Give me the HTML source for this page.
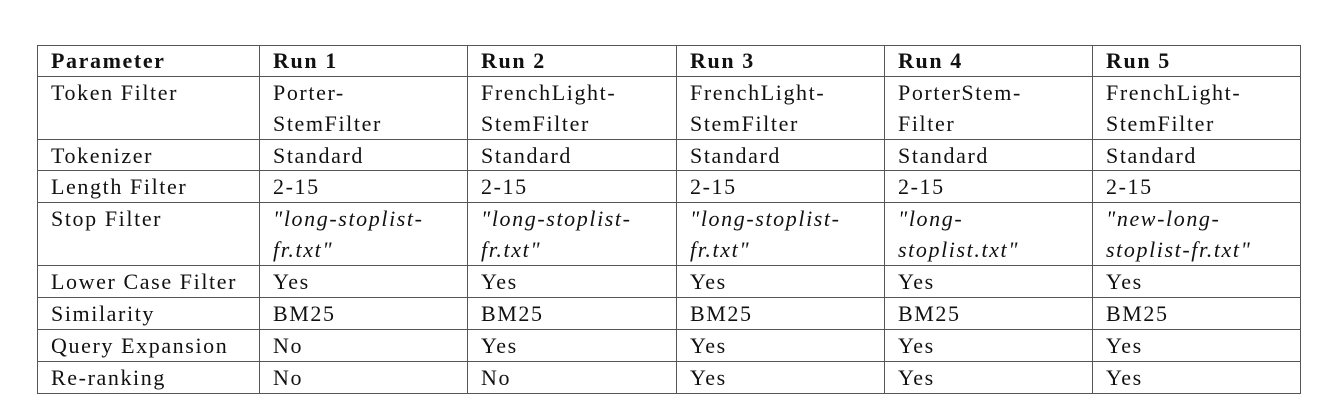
<!DOCTYPE html>
<html><head><style>
body{margin:0;width:1318px;height:412px;background:#fff;position:relative;font-family:"Liberation Serif",serif;font-size:22px;letter-spacing:1.6px;color:#111}
.h{position:absolute;left:37px;width:1264px;height:1px;background:#555}
.v{position:absolute;top:45px;height:349px;width:1px;background:#555}
.t{position:absolute;line-height:31px;white-space:nowrap}
b{font-weight:bold}
i{font-style:italic}
</style></head><body>
<div class="h" style="top:45px"></div>
<div class="h" style="top:76px"></div>
<div class="h" style="top:139px"></div>
<div class="h" style="top:170px"></div>
<div class="h" style="top:202px"></div>
<div class="h" style="top:265px"></div>
<div class="h" style="top:297px"></div>
<div class="h" style="top:329px"></div>
<div class="h" style="top:361px"></div>
<div class="h" style="top:393px"></div>
<div class="v" style="left:37px"></div>
<div class="v" style="left:259px"></div>
<div class="v" style="left:467px"></div>
<div class="v" style="left:676px"></div>
<div class="v" style="left:884px"></div>
<div class="v" style="left:1092px"></div>
<div class="v" style="left:1300px"></div>

<div class="t" style="left:51px;top:45px"><b>Parameter</b></div>
<div class="t" style="left:273px;top:45px"><b>Run 1</b></div>
<div class="t" style="left:481px;top:45px"><b>Run 2</b></div>
<div class="t" style="left:690px;top:45px"><b>Run 3</b></div>
<div class="t" style="left:898px;top:45px"><b>Run 4</b></div>
<div class="t" style="left:1106px;top:45px"><b>Run 5</b></div>

<div class="t" style="left:51px;top:77px">Token Filter</div>
<div class="t" style="left:273px;top:77px">Porter-<br>StemFilter</div>
<div class="t" style="left:481px;top:77px">FrenchLight-<br>StemFilter</div>
<div class="t" style="left:690px;top:77px">FrenchLight-<br>StemFilter</div>
<div class="t" style="left:898px;top:77px">PorterStem-<br>Filter</div>
<div class="t" style="left:1106px;top:77px">FrenchLight-<br>StemFilter</div>

<div class="t" style="left:51px;top:140px">Tokenizer</div>
<div class="t" style="left:273px;top:140px">Standard</div>
<div class="t" style="left:481px;top:140px">Standard</div>
<div class="t" style="left:690px;top:140px">Standard</div>
<div class="t" style="left:898px;top:140px">Standard</div>
<div class="t" style="left:1106px;top:140px">Standard</div>

<div class="t" style="left:51px;top:171px">Length Filter</div>
<div class="t" style="left:273px;top:171px">2-15</div>
<div class="t" style="left:481px;top:171px">2-15</div>
<div class="t" style="left:690px;top:171px">2-15</div>
<div class="t" style="left:898px;top:171px">2-15</div>
<div class="t" style="left:1106px;top:171px">2-15</div>

<div class="t" style="left:51px;top:203px">Stop Filter</div>
<div class="t" style="left:273px;top:203px"><i>"long-stoplist-<br>fr.txt"</i></div>
<div class="t" style="left:481px;top:203px"><i>"long-stoplist-<br>fr.txt"</i></div>
<div class="t" style="left:690px;top:203px"><i>"long-stoplist-<br>fr.txt"</i></div>
<div class="t" style="left:898px;top:203px"><i>"long-<br>stoplist.txt"</i></div>
<div class="t" style="left:1106px;top:203px"><i>"new-long-<br>stoplist-fr.txt"</i></div>

<div class="t" style="left:51px;top:266px">Lower Case Filter</div>
<div class="t" style="left:273px;top:266px">Yes</div>
<div class="t" style="left:481px;top:266px">Yes</div>
<div class="t" style="left:690px;top:266px">Yes</div>
<div class="t" style="left:898px;top:266px">Yes</div>
<div class="t" style="left:1106px;top:266px">Yes</div>

<div class="t" style="left:51px;top:298px">Similarity</div>
<div class="t" style="left:273px;top:298px">BM25</div>
<div class="t" style="left:481px;top:298px">BM25</div>
<div class="t" style="left:690px;top:298px">BM25</div>
<div class="t" style="left:898px;top:298px">BM25</div>
<div class="t" style="left:1106px;top:298px">BM25</div>

<div class="t" style="left:51px;top:330px">Query Expansion</div>
<div class="t" style="left:273px;top:330px">No</div>
<div class="t" style="left:481px;top:330px">Yes</div>
<div class="t" style="left:690px;top:330px">Yes</div>
<div class="t" style="left:898px;top:330px">Yes</div>
<div class="t" style="left:1106px;top:330px">Yes</div>

<div class="t" style="left:51px;top:362px">Re-ranking</div>
<div class="t" style="left:273px;top:362px">No</div>
<div class="t" style="left:481px;top:362px">No</div>
<div class="t" style="left:690px;top:362px">Yes</div>
<div class="t" style="left:898px;top:362px">Yes</div>
<div class="t" style="left:1106px;top:362px">Yes</div>
</body></html>
